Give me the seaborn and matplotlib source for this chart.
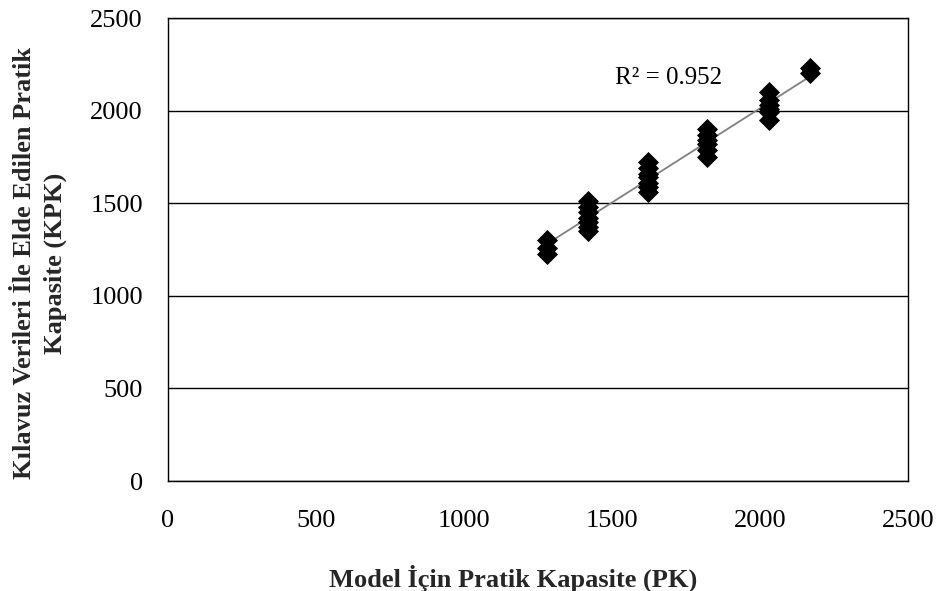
import numpy as np
import pandas as pd
import matplotlib
matplotlib.use("Agg")
import matplotlib.pyplot as plt
import seaborn as sns

# Practical capacity from the model (PK) and from the guideline data (KPK)
pk = [1280, 1280, 1280,
      1420, 1420, 1420, 1420, 1420, 1420, 1420,
      1620, 1620, 1620, 1620, 1620, 1620, 1620,
      1820, 1820, 1820, 1820, 1820, 1820,
      2030, 2030, 2030, 2030, 2030, 2030,
      2170, 2170]
kpk = [1300, 1260, 1225,
       1510, 1480, 1450, 1420, 1400, 1370, 1350,
       1720, 1690, 1660, 1640, 1610, 1590, 1560,
       1900, 1870, 1840, 1820, 1790, 1750,
       2100, 2060, 2030, 2010, 1990, 1950,
       2230, 2205]
ticks = [0, 500, 1000, 1500, 2000, 2500]

df = pd.DataFrame({"PK": pk, "KPK": kpk})

sns.set_style("white")
plt.rcParams["font.family"] = ["Liberation Serif", "DejaVu Serif"]

fig = plt.figure(figsize=(9.38, 5.91), dpi=100)
ax = fig.add_axes([0.1791, 0.1861, 0.7889, 0.7834])

# horizontal gridlines
for t in ticks:
    ax.axhline(t, color="black", lw=1.0, zorder=1)

sns.regplot(data=df, x="PK", y="KPK", scatter=False, ci=None, ax=ax,
            line_kws={"color": "#808080", "lw": 1.3, "zorder": 2})
sns.scatterplot(data=df, x="PK", y="KPK", marker="D", s=115, color="black",
                edgecolor="black", linewidth=0, ax=ax, zorder=3)

ax.set_xlim(0, 2500)
ax.set_ylim(0, 2500)
ax.set_xticks(ticks)
ax.set_yticks(ticks)
ax.tick_params(axis="both", direction="out", length=6, width=1, color="black",
               labelsize=19, labelcolor="black")
ax.tick_params(axis="x", pad=15)
ax.tick_params(axis="y", pad=12)
for sp in ax.spines.values():
    sp.set_color("black")
    sp.set_linewidth(1.0)

ax.set_xlabel("Model İçin Pratik Kapasite (PK)", fontsize=19, fontweight="bold")
ax.xaxis.set_label_coords(0.466, -0.180)
ax.set_ylabel("Kılavuz Verileri İle Elde Edilen Pratik\nKapasite (KPK)",
              fontsize=19, fontweight="bold", linespacing=1.4)
ax.yaxis.set_label_coords(-0.137, 0.471)

ax.text(1510, 2176, "R² = 0.952", fontsize=18, ha="left", va="center",
        color="black")

fig.savefig("out.png", dpi=100)
